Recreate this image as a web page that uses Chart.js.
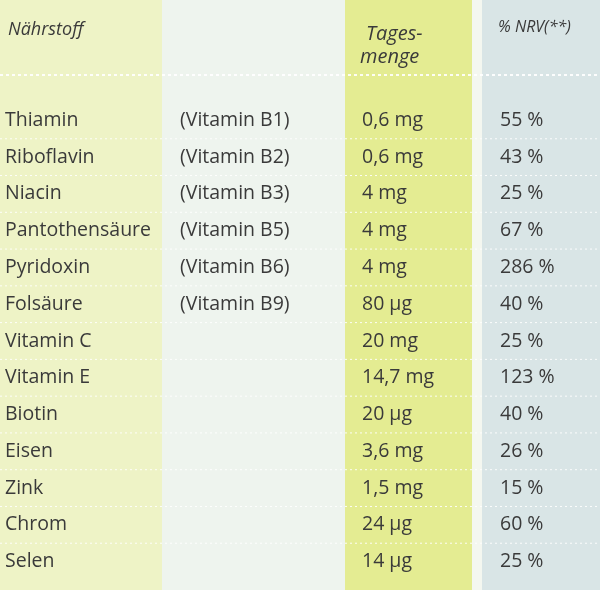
<!DOCTYPE html>
<html><head><meta charset="utf-8">
<script src="https://cdn.jsdelivr.net/npm/chart.js@4"></script>
<style>html,body{margin:0;padding:0;background:#fff}#w{width:600px;height:590px}</style>
</head><body><div id="w"><canvas id="c"></canvas></div>
<script>
const nutrients = ["Thiamin","Riboflavin","Niacin","Pantothensäure","Pyridoxin","Folsäure","Vitamin C","Vitamin E","Biotin","Eisen","Zink","Chrom","Selen"];
const vitaminTags = ["(Vitamin B1)","(Vitamin B2)","(Vitamin B3)","(Vitamin B5)","(Vitamin B6)","(Vitamin B9)","","","","","","",""];
const dailyAmount = ["0,6 mg","0,6 mg","4 mg","4 mg","4 mg","80 µg","20 mg","14,7 mg","20 µg","3,6 mg","1,5 mg","24 µg","14 µg"];
const nrvPercent = [55,43,25,67,286,40,25,123,40,26,15,60,25];
const headers = ["Nährstoff","Tages-","menge","% NRV(**)"];

const cols = [[0,162,'#eef3c6'],[162,345,'#eef4ee'],[345,472,'#e4ec92'],[472,482,'#f4f7f0'],[482,600,'#d9e5e6']];
const tablePlugin = {
  id:'table',
  beforeDatasetsDraw(chart){
    const {ctx,scales:{x,y}} = chart;
    ctx.save();
    cols.forEach(([a,b,c])=>{ctx.fillStyle=c;const xa=x.getPixelForValue(a),xb=x.getPixelForValue(b);ctx.fillRect(xa,0,xb-xa,chart.height);});
    ctx.strokeStyle='rgba(255,255,255,0.9)';ctx.lineWidth=2;ctx.setLineDash([3,3]);
    ctx.beginPath();ctx.moveTo(0,75);ctx.lineTo(600,75);ctx.stroke();
    ctx.lineWidth=1;ctx.setLineDash([2,3]);
    for(let i=0;i<nutrients.length-1;i++){const yy=(y.getPixelForValue(i)+y.getPixelForValue(i+1))/2;ctx.beginPath();ctx.moveTo(0,yy);ctx.lineTo(600,yy);ctx.stroke();}
    ctx.setLineDash([]);
    ctx.fillStyle='#3a3a3a';ctx.textBaseline='middle';
    ctx.font='italic 18px "Open Sans"';
    ctx.fillText(headers[0],x.getPixelForValue(8),30);
    ctx.font='italic 20px "Open Sans"';
    ctx.fillText(headers[1],x.getPixelForValue(366),34);
    ctx.fillText(headers[2],x.getPixelForValue(360),57);
    ctx.font='italic 16px "Open Sans"';
    ctx.fillText(headers[3],x.getPixelForValue(498),27);
    ctx.font='19.5px "Open Sans"';
    nutrients.forEach((n,i)=>{
      const yy=y.getPixelForValue(i);
      ctx.fillText(n,x.getPixelForValue(5),yy);
      if(vitaminTags[i])ctx.fillText(vitaminTags[i],x.getPixelForValue(180),yy);
      ctx.fillText(dailyAmount[i],x.getPixelForValue(362),yy);
      ctx.fillText(nrvPercent[i]+' %',x.getPixelForValue(500),yy);
    });
    ctx.restore();
  }
};
new Chart(document.getElementById('c'),{
  type:'bar',
  data:{labels:nutrients,datasets:[{data:nrvPercent.map(()=>null),backgroundColor:'transparent'}]},
  options:{indexAxis:'y',responsive:true,maintainAspectRatio:false,animation:false,
    layout:{padding:{top:102,bottom:10,left:0,right:0}},
    plugins:{legend:{display:false},tooltip:{enabled:false}},
    scales:{x:{type:'linear',min:0,max:600,display:false},y:{type:'category',display:false}}},
  plugins:[tablePlugin]
});
</script></body></html>
